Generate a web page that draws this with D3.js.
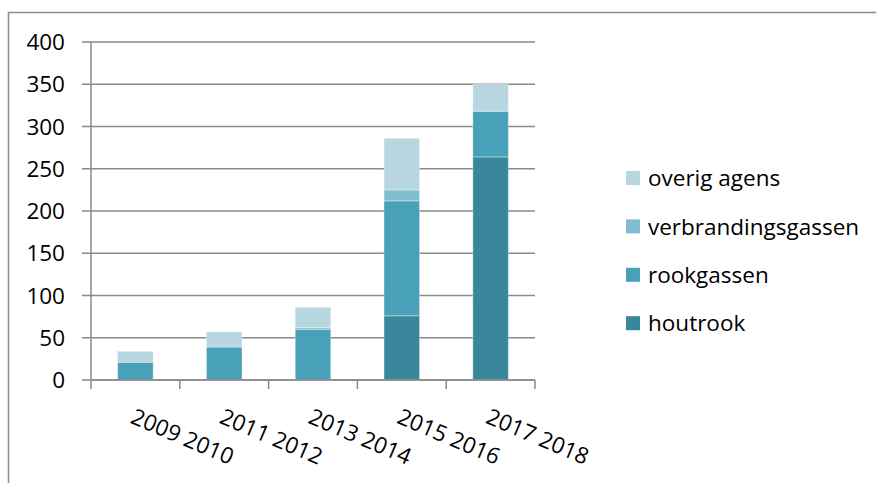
<!DOCTYPE html>
<html>
<head>
<meta charset="utf-8">
<script src="https://cdn.jsdelivr.net/npm/d3@7/dist/d3.min.js"></script>
<style>
  html, body { margin: 0; padding: 0; background: #fff; }
  svg { display: block; }
  text { font-family: "Open Sans", "DejaVu Sans", sans-serif; fill: #000; }
</style>
</head>
<body>
<svg id="chart" width="877" height="483"></svg>
<script>
// ---- data ----
const categories = ["2009 2010", "2011 2012", "2013 2014", "2015 2016", "2017 2018"];
const seriesNames = ["houtrook", "rookgassen", "verbrandingsgassen", "overig agens"];
const houtrook = [0, 0, 0, 76, 264];
const rookgassen = [21, 39, 60, 136, 54];
const verbrandingsgassen = [0, 0, 2, 13, 0];
const overigAgens = [13, 18, 24, 61, 32];
const yTicks = [0, 50, 100, 150, 200, 250, 300, 350, 400];
const colors = ["#3a879b", "#48a1b9", "#80bdd0", "#b8d6e0"];

const seriesValues = [houtrook, rookgassen, verbrandingsgassen, overigAgens];
const table = categories.map((c, i) => {
  const row = { cat: c };
  seriesNames.forEach((s, k) => row[s] = seriesValues[k][i]);
  return row;
});

const svg = d3.select("#chart");
const pLeft = 91, pRight = 535, pTop = 42, pBottom = 380;

// outer frame
svg.append("path")
  .attr("d", "M8.5,490 L8.5,12.5 L876,12.5")
  .attr("fill", "none").attr("stroke", "#8a8a8a").attr("stroke-width", 1.5);

const x = d3.scaleBand().domain(categories).range([pLeft, pRight]).paddingInner(0.6).paddingOuter(0.3);
const xb = d3.scaleBand().domain(categories).range([pLeft, pRight]);
const y = d3.scaleLinear().domain([0, 400]).range([pBottom, pTop]);

// gridlines + y ticks
svg.append("g").selectAll("line").data(yTicks).join("line")
  .attr("x1", pLeft - 9).attr("x2", pRight)
  .attr("y1", d => y(d)).attr("y2", d => y(d))
  .attr("stroke", "#8a8a8a").attr("stroke-width", 1.5);

svg.append("g").selectAll("text").data(yTicks).join("text")
  .attr("x", 65).attr("y", d => y(d))
  .attr("text-anchor", "end").attr("dy", "0.36em")
  .style("font-size", "22.5px")
  .text(d => d);

// stacked bars
const stack = d3.stack().keys(seriesNames)(table);
svg.append("g").selectAll("g").data(stack).join("g")
  .attr("fill", (d, i) => colors[i])
  .selectAll("rect").data(d => d).join("rect")
  .attr("x", d => x(d.data.cat))
  .attr("width", x.bandwidth())
  .attr("y", d => y(d[1]))
  .attr("height", d => Math.max(0, y(d[0]) - y(d[1])))
  .attr("stroke", "#ffffff").attr("stroke-opacity", 0.35).attr("stroke-width", 1);

// axes lines
svg.append("line").attr("x1", pLeft).attr("x2", pLeft).attr("y1", pTop).attr("y2", pBottom + 9)
  .attr("stroke", "#8a8a8a").attr("stroke-width", 1.5);
svg.append("line").attr("x1", pLeft).attr("x2", pRight).attr("y1", pBottom).attr("y2", pBottom)
  .attr("stroke", "#8a8a8a").attr("stroke-width", 1.5);
const bounds = categories.map(c => xb(c) + xb.bandwidth());
svg.append("g").selectAll("line").data(bounds).join("line")
  .attr("x1", d => d).attr("x2", d => d).attr("y1", pBottom).attr("y2", pBottom + 9)
  .attr("stroke", "#8a8a8a").attr("stroke-width", 1.5);

// x labels
svg.append("g").selectAll("text").data(categories).join("text")
  .attr("transform", c => `translate(${xb(c) + xb.bandwidth() / 2 + 1},${406}) rotate(23)`)
  .attr("dy", "0.8em")
  .style("font-size", "22.5px")
  .text(c => c);

// legend
const legendOrder = ["overig agens", "verbrandingsgassen", "rookgassen", "houtrook"];
const lg = svg.append("g").selectAll("g").data(legendOrder).join("g")
  .attr("transform", (d, i) => `translate(626,${178 + i * 48.4})`);
lg.append("rect").attr("x", 0).attr("y", -7).attr("width", 14).attr("height", 14)
  .attr("fill", d => colors[seriesNames.indexOf(d)]);
lg.append("text").attr("x", 22).attr("dy", "0.36em")
  .style("font-size", "22.5px")
  .text(d => d);
</script>
</body>
</html>
